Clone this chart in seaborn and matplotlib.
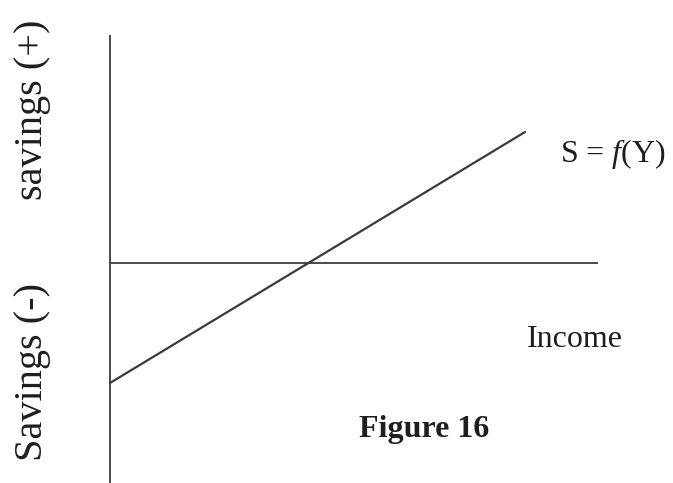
import matplotlib
matplotlib.use("Agg")
import matplotlib.pyplot as plt
import seaborn as sns
import pandas as pd

# Savings function S = f(Y): two end points of the straight line
income = [0, 415]
savings = [-120, 131]

# Axis extents (income axis runs right, savings axis up and down)
income_axis = [0, 488]
savings_axis = [-220, 228]

sns.set_theme(style="white")
plt.rcParams["font.family"] = ["Liberation Serif", "DejaVu Serif"]
plt.rcParams["mathtext.fontset"] = "custom"
plt.rcParams["mathtext.rm"] = "Liberation Serif"
plt.rcParams["mathtext.it"] = "Liberation Serif:italic"

fig = plt.figure(figsize=(6.73, 4.83), dpi=100)
ax = fig.add_axes([0, 0, 1, 1])
ax.set_xlim(-110, 563)
ax.set_ylim(-220, 263)
ax.axis("off")

axis_color = "#4a4a4a"
ax.plot([0, 0], savings_axis, color=axis_color, lw=1.4, solid_capstyle="butt")
ax.plot(income_axis, [0, 0], color=axis_color, lw=1.4, solid_capstyle="butt")

df = pd.DataFrame({"income": income, "savings": savings})
sns.lineplot(data=df, x="income", y="savings", ax=ax, color="#3a3a3a", lw=1.6)

text_color = "#1e1e1e"
ax.text(-77, 153, "savings (+)", rotation=90, ha="center", va="center",
        fontsize=29, color=text_color)
ax.text(-77, -109, "Savings (-)", rotation=90, ha="center", va="center",
        fontsize=29, color=text_color)
ax.text(450, 101, "S = $f$(Y)", ha="left", va="baseline",
        fontsize=23, color=text_color)
ax.text(465, -84, "Income", ha="center", va="baseline",
        fontsize=23, color=text_color)
ax.text(314, -174, "Figure 16", ha="center", va="baseline",
        fontsize=23, fontweight="bold", color=text_color)

fig.savefig("out.png", dpi=100, facecolor="white")
